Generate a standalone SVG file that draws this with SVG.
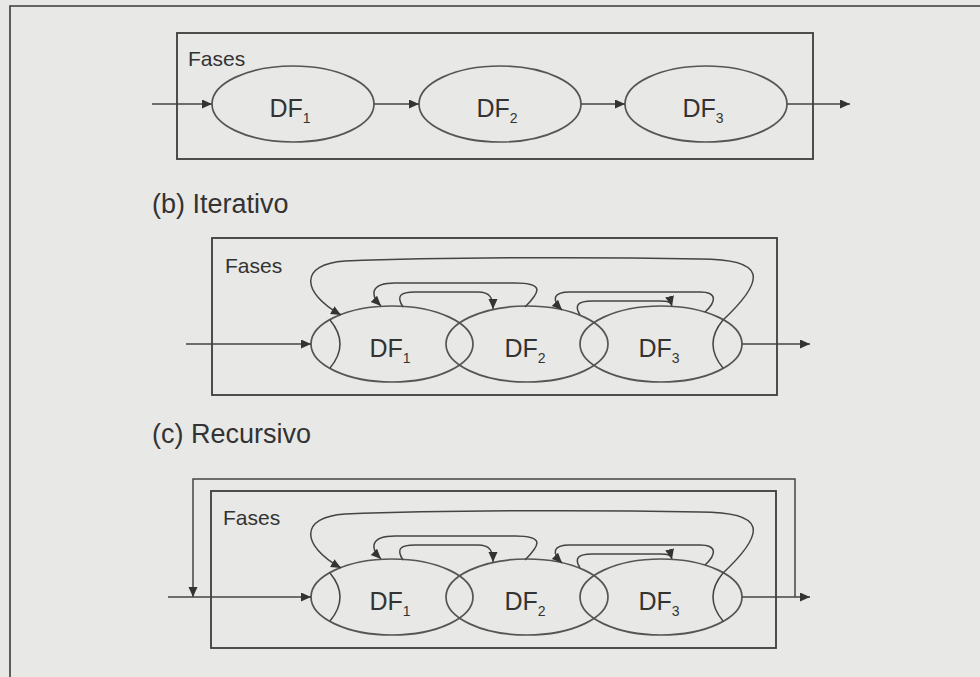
<svg xmlns="http://www.w3.org/2000/svg" width="980" height="677" viewBox="0 0 980 677">
<defs>
<marker id="ah" markerUnits="userSpaceOnUse" markerWidth="12" markerHeight="10" refX="10" refY="4.5" orient="auto">
<path d="M0,0 L10,4.5 L0,9 z" fill="#333"/>
</marker>
<style>
.frame{fill:none;stroke:#3a3a3a;stroke-width:1.6}
.box{fill:none;stroke:#3c3c3c;stroke-width:1.8}
.ell{fill:none;stroke:#555;stroke-width:1.7}
.lens{fill:none;stroke:#444;stroke-width:1.5}
.arr{fill:none;stroke:#444;stroke-width:1.5;marker-end:url(#ah)}
.lbl{font-family:"Liberation Sans",Arial,sans-serif;fill:#333}
.fases{font-size:21px}
.df{font-size:25px}
.sub{font-size:14px}
.cap{font-size:27px}
</style>
</defs>
<rect width="980" height="677" fill="#e8e8e6"/>
<g id="outer-frame">
<path class="frame" d="M10,677 L10,6 L980,6"/>
</g>

<g id="panel-a">
<rect class="box" x="177" y="33" width="636" height="126"/>
<text class="lbl fases" x="188" y="66">Fases</text>
</g>
<g id="a-df1"><ellipse class="ell" cx="293" cy="104" rx="81" ry="38"/><text class="lbl df" x="290" y="117" text-anchor="middle">DF<tspan class="sub" dy="6">1</tspan></text></g>
<g id="a-df2"><ellipse class="ell" cx="500" cy="104" rx="81" ry="38"/><text class="lbl df" x="497" y="117" text-anchor="middle">DF<tspan class="sub" dy="6">2</tspan></text></g>
<g id="a-df3"><ellipse class="ell" cx="706" cy="104" rx="81" ry="38"/><text class="lbl df" x="703" y="117" text-anchor="middle">DF<tspan class="sub" dy="6">3</tspan></text></g>
<g id="a-connectors">
<path class="arr" d="M152,104 L212,104"/>
<path class="arr" d="M374,104 L419,104"/>
<path class="arr" d="M581,104 L625,104"/>
<path class="arr" d="M787,104 L850,104"/>
</g>

<text id="caption-b" class="lbl cap" x="152" y="213">(b) Iterativo</text>

<g id="panel-b">
<rect class="box" x="212" y="238" width="565" height="157"/>
<text class="lbl fases" x="225" y="273">Fases</text>
</g>
<g id="b-df1"><ellipse class="ell" cx="392" cy="344" rx="81" ry="38"/><text class="lbl df" x="390" y="357" text-anchor="middle">DF<tspan class="sub" dy="6">1</tspan></text></g>
<g id="b-df2"><ellipse class="ell" cx="527" cy="344" rx="81" ry="38"/><text class="lbl df" x="525" y="357" text-anchor="middle">DF<tspan class="sub" dy="6">2</tspan></text></g>
<g id="b-df3"><ellipse class="ell" cx="661" cy="344" rx="81" ry="38"/><text class="lbl df" x="659" y="357" text-anchor="middle">DF<tspan class="sub" dy="6">3</tspan></text></g>
<g id="b-connectors">
<path class="lens" d="M330,320 Q350,344 330,368"/>
<path class="lens" d="M723,320 Q703,344 723,368"/>
<path class="arr" d="M186,344 L311,344"/>
<path class="arr" d="M742,344 L810,344"/>
<path class="arr" d="M723,320 C768,278 765,259 700,259 C600,257 450,257 345,261 C300,264 300,292 341,315"/>
<path class="arr" d="M525,307 C540,292 545,283 515,283 L395,283 C370,283 370,295 381,306"/>
<path class="arr" d="M403,307 C396,296 400,292 415,292 L478,292 C490,292 493,298 493,309"/>
<path class="arr" d="M705,312 C716,302 718,292 700,292 L570,292 C552,292 552,300 562,310"/>
<path class="arr" d="M580,315 C574,305 578,301 592,301 L660,301 C668,301 671,302 672,306"/>
</g>

<text id="caption-c" class="lbl cap" x="152" y="443">(c) Recursivo</text>

<g id="panel-c" transform="translate(0,253)">
<rect class="box" x="211" y="238" width="565" height="157"/>
<text class="lbl fases" x="223" y="272">Fases</text>
</g>
<g id="c-df1" transform="translate(0,253)"><ellipse class="ell" cx="392" cy="344" rx="81" ry="38"/><text class="lbl df" x="390" y="357" text-anchor="middle">DF<tspan class="sub" dy="6">1</tspan></text></g>
<g id="c-df2" transform="translate(0,253)"><ellipse class="ell" cx="527" cy="344" rx="81" ry="38"/><text class="lbl df" x="525" y="357" text-anchor="middle">DF<tspan class="sub" dy="6">2</tspan></text></g>
<g id="c-df3" transform="translate(0,253)"><ellipse class="ell" cx="661" cy="344" rx="81" ry="38"/><text class="lbl df" x="659" y="357" text-anchor="middle">DF<tspan class="sub" dy="6">3</tspan></text></g>
<g id="c-connectors" transform="translate(0,253)">
<path class="lens" d="M330,320 Q350,344 330,368"/>
<path class="lens" d="M723,320 Q703,344 723,368"/>
<path class="arr" d="M168,344 L311,344"/>
<path class="arr" d="M742,344 L810,344"/>
<path class="arr" d="M795,344 L795,226 L193,226 L193,344"/>
<path class="arr" d="M723,320 C768,278 765,259 700,259 C600,257 450,257 345,261 C300,264 300,292 341,315"/>
<path class="arr" d="M525,307 C540,292 545,283 515,283 L395,283 C370,283 370,295 381,306"/>
<path class="arr" d="M403,307 C396,296 400,292 415,292 L478,292 C490,292 493,298 493,309"/>
<path class="arr" d="M705,312 C716,302 718,292 700,292 L570,292 C552,292 552,300 562,310"/>
<path class="arr" d="M580,315 C574,305 578,301 592,301 L660,301 C668,301 671,302 672,306"/>
</g>
</svg>
